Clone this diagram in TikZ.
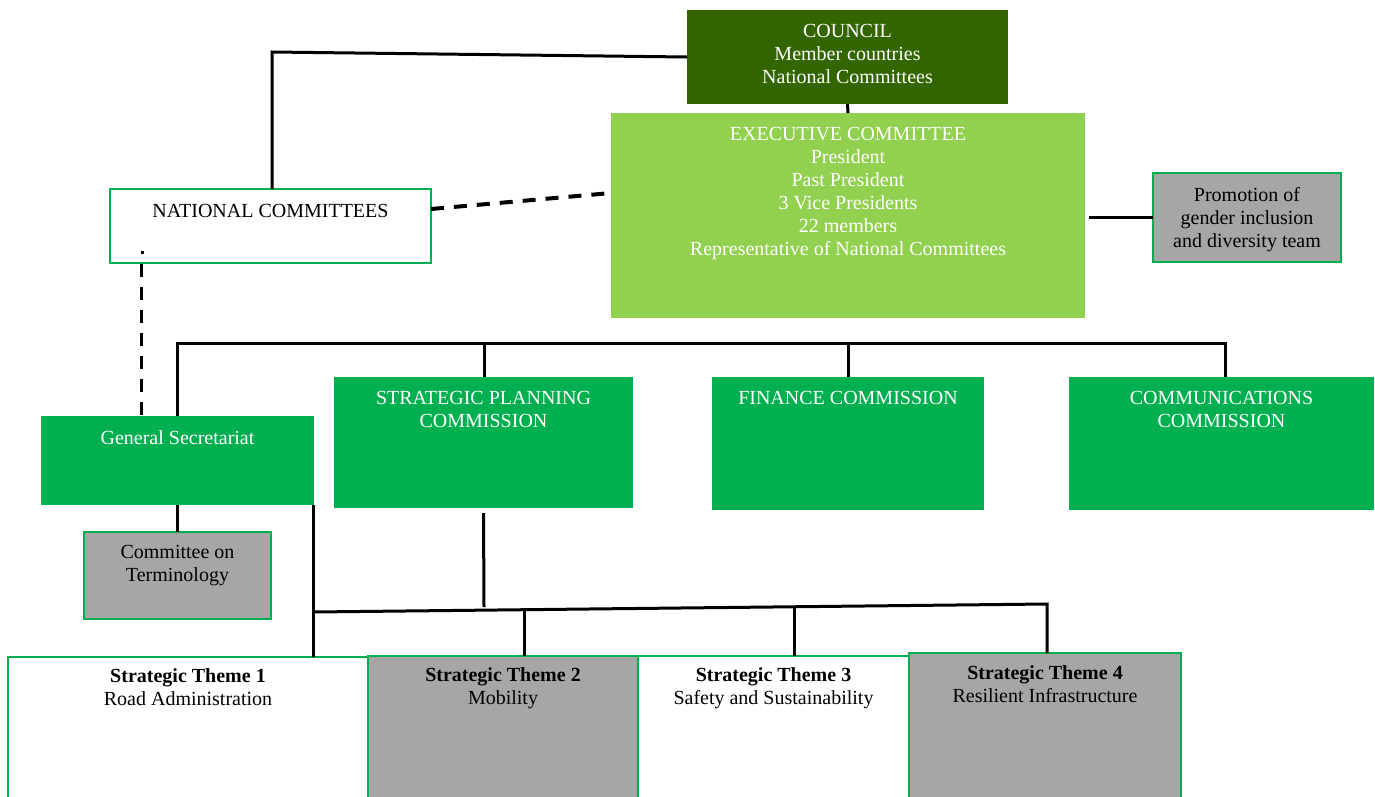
\documentclass[tikz,border=0pt]{standalone}
\usepackage{fontspec}
\setmainfont{Liberation Serif}
\definecolor{councilg}{HTML}{336600}
\definecolor{execg}{HTML}{92D050}
\definecolor{commg}{HTML}{00B050}
\definecolor{grayb}{HTML}{A6A6A6}
\begin{document}
\begin{tikzpicture}[x=1pt,y=-1pt,
  box/.style={rectangle, inner sep=0pt, outer sep=0pt},
  solidbox/.style={box, draw=none},
  linedbox/.style={box, draw=commg, line width=2pt},
  txt/.style={inner sep=0pt, anchor=north, align=center, font=\fontsize{20}{23}\selectfont},
  conn/.style={line width=3pt, draw=black},
  dashconn/.style={conn, dash pattern=on 13pt off 10pt}]
\useasboundingbox[fill=white] (0,0) rectangle (1375,796);

% ---------- helper coordinates ----------
\coordinate (c1) at (272,52);
\coordinate (dtop) at (141,251);
\coordinate (dmid) at (141,264);
\coordinate (dbot) at (141,416);
\coordinate (busL) at (177,343);
\coordinate (busR) at (1225,343);
\coordinate (busS) at (484,343);
\coordinate (busF) at (848,343);
\coordinate (bL) at (313,612);
\coordinate (bR) at (1047,604);
\coordinate (spcEnd) at (484,607);
\coordinate (b2) at (524,609.7);
\coordinate (b3) at (794,606.8);
\coordinate (ncR) at (431,209);
\coordinate (exL) at (611,193);

% ---------- boxes ----------
\node[solidbox, fill=councilg, minimum width=321, minimum height=94] (council) at (847.5,57) {};
\node[solidbox, fill=execg, minimum width=474, minimum height=205] (exec) at (848,215.5) {};
\node[linedbox, fill=grayb, minimum width=188, minimum height=89] (promo) at (1247,217.5) {};
\node[linedbox, fill=white, minimum width=321, minimum height=74] (nc) at (270.5,226) {};
\node[solidbox, fill=commg, minimum width=273, minimum height=89] (gs) at (177.5,460.5) {};
\node[solidbox, fill=commg, minimum width=299, minimum height=131] (spc) at (483.5,442.5) {};
\node[solidbox, fill=commg, minimum width=272, minimum height=133] (fin) at (848,443.5) {};
\node[solidbox, fill=commg, minimum width=305, minimum height=133] (com) at (1221.5,443.5) {};
\node[linedbox, fill=grayb, minimum width=187, minimum height=87] (cot) at (177.5,575.5) {};
\node[linedbox, fill=white, minimum width=360, minimum height=153] (t1) at (188,733.5) {};
\node[linedbox, fill=grayb, minimum width=270, minimum height=154] (t2) at (503,733) {};
\node[linedbox, fill=white, minimum width=271, minimum height=154] (t3) at (773.5,733) {};
\node[linedbox, fill=grayb, minimum width=272, minimum height=157] (t4) at (1045,731.5) {};

% ---------- texts ----------
\node[txt, text=white] (council-t) at (847.5,24.5) {COUNCIL\\Member countries\\National Committees};
\node[txt, text=white] (exec-t) at (848,127.5) {EXECUTIVE COMMITTEE\\President\\Past President\\3 Vice Presidents\\22 members\\Representative of National Committees};
\node[txt] (promo-t) at (1247,187) {Promotion of\\gender inclusion\\and diversity team};
\node[txt] (nc-t) at (270.5,204) {NATIONAL COMMITTEES};
\node[txt, text=white] (gs-t) at (177.5,430.5) {General Secretariat};
\node[txt, text=white] (spc-t) at (483.5,391) {STRATEGIC PLANNING\\COMMISSION};
\node[txt, text=white] (fin-t) at (848,391) {FINANCE COMMISSION};
\node[txt, text=white] (com-t) at (1221.5,391) {COMMUNICATIONS\\COMMISSION};
\node[txt] (cot-t) at (177.5,545) {Committee on\\Terminology};
\node[txt] (t1-t) at (188,668.5) {\textbf{Strategic Theme 1}\\Road Administration};
\node[txt] (t2-t) at (503,667.5) {\textbf{Strategic Theme 2}\\Mobility};
\node[txt] (t3-t) at (773.5,667.5) {\textbf{Strategic Theme 3}\\Safety and Sustainability};
\node[txt] (t4-t) at (1045,665.5) {\textbf{Strategic Theme 4}\\Resilient Infrastructure};

% ---------- connectors ----------
\draw[conn] (council.west) -- (c1) -- (c1 |- nc.north);
\draw[conn] (council.south) -- (exec.north);
\draw[conn] ([xshift=4pt]exec.east |- promo.west) -- (promo.west);
\draw[dashconn, line width=4pt] (ncR) -- (exL);
\fill (dtop) rectangle ++(2.5,2.5);
\draw[dashconn] (dmid) -- (dbot);
\draw[conn] (busL |- gs.north) -- (busL) -- (busR) -- (busR |- com.north);
\draw[conn] (busS) -- (busS |- spc.north);
\draw[conn] (busF) -- (busF |- fin.north);
\draw[conn] (gs.south) -- (cot.north);
\draw[conn] ([xshift=-1pt]gs.south east) -- ([xshift=-1pt]gs.south east |- t1.north);
\draw[conn] (bL) -- (bR) -- (bR |- t4.north);
\draw[conn] ([yshift=-5pt]spc.south) -- (spcEnd);
\draw[conn] (b2) -- (b2 |- t2.north);
\draw[conn] (b3) -- (b3 |- t3.north);
\end{tikzpicture}
\end{document}
